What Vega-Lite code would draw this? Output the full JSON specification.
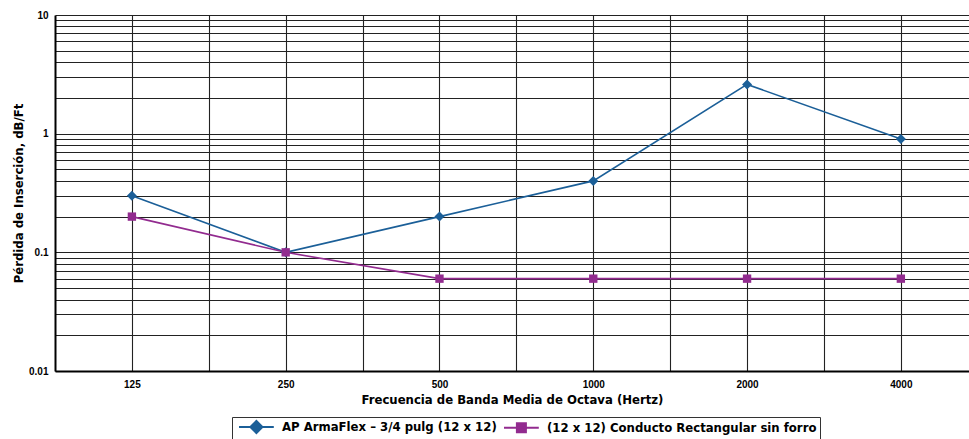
{
  "$schema": "https://vega.github.io/schema/vega-lite/v6.json",
  "width": 914,
  "height": 356,
  "autosize": {"type": "none"},
  "padding": {"left": 55, "top": 15, "right": 0, "bottom": 68},
  "background": "white",
  "config": {
    "view": {"stroke": null},
    "font": "Liberation Sans",
    "axis": {
      "domain": true,
      "domainColor": "#000000",
      "domainWidth": 2,
      "ticks": false,
      "grid": true,
      "gridColor": "#222222",
      "gridWidth": 1.1,
      "gridOpacity": 1,
      "labelFont": "Liberation Sans",
      "labelFontWeight": "bold",
      "labelFontSize": 10,
      "labelColor": "#000000",
      "labelOverlap": false,
      "titleFont": "DejaVu Sans Condensed, DejaVu Sans, sans-serif",
      "titleFontWeight": "bold",
      "titleFontSize": 13,
      "titleColor": "#000000"
    }
  },
  "data": {
    "values": [
      {"freq": 125, "value": 0.3, "series": "AP ArmaFlex – 3/4 pulg (12 x 12)"},
      {"freq": 250, "value": 0.1, "series": "AP ArmaFlex – 3/4 pulg (12 x 12)"},
      {"freq": 500, "value": 0.2, "series": "AP ArmaFlex – 3/4 pulg (12 x 12)"},
      {"freq": 1000, "value": 0.4, "series": "AP ArmaFlex – 3/4 pulg (12 x 12)"},
      {"freq": 2000, "value": 2.6, "series": "AP ArmaFlex – 3/4 pulg (12 x 12)"},
      {"freq": 4000, "value": 0.9, "series": "AP ArmaFlex – 3/4 pulg (12 x 12)"},
      {"freq": 125, "value": 0.2, "series": "(12 x 12) Conducto Rectangular sin forro"},
      {"freq": 250, "value": 0.1, "series": "(12 x 12) Conducto Rectangular sin forro"},
      {"freq": 500, "value": 0.06, "series": "(12 x 12) Conducto Rectangular sin forro"},
      {"freq": 1000, "value": 0.06, "series": "(12 x 12) Conducto Rectangular sin forro"},
      {"freq": 2000, "value": 0.06, "series": "(12 x 12) Conducto Rectangular sin forro"},
      {"freq": 4000, "value": 0.06, "series": "(12 x 12) Conducto Rectangular sin forro"}
    ]
  },
  "encoding": {
    "x": {
      "field": "freq",
      "type": "quantitative",
      "scale": {"type": "log", "base": 2, "domain": [88.39, 5438], "nice": false},
      "axis": {
        "title": "Frecuencia de Banda Media de Octava (Hertz)",
        "values": [125, 176.78, 250, 353.55, 500, 707.11, 1000, 1414.21, 2000, 2828.43, 4000],
        "format": "d",
        "labelExpr": "indexof([125,250,500,1000,2000,4000], datum.value) >= 0 ? datum.label : ''",
        "labelPadding": 8,
        "titlePadding": 4
      }
    },
    "y": {
      "field": "value",
      "type": "quantitative",
      "scale": {"type": "log", "domain": [0.01, 10], "nice": false},
      "axis": {
        "title": "Pérdida de Inserción, dB/Ft",
        "values": [0.01, 0.02, 0.03, 0.04, 0.05, 0.06, 0.07, 0.08, 0.09, 0.1, 0.2, 0.3, 0.4, 0.5, 0.6, 0.7, 0.8, 0.9, 1, 2, 3, 4, 5, 6, 7, 8, 9, 10],
        "format": "~g",
        "labelExpr": "indexof([0.01,0.1,1,10], datum.value) >= 0 ? datum.label : ''",
        "labelPadding": 7,
        "titlePadding": 3
      }
    },
    "color": {
      "field": "series",
      "type": "nominal",
      "sort": ["AP ArmaFlex – 3/4 pulg (12 x 12)", "(12 x 12) Conducto Rectangular sin forro"],
      "scale": {
        "domain": ["AP ArmaFlex – 3/4 pulg (12 x 12)", "(12 x 12) Conducto Rectangular sin forro"],
        "range": ["#1b5f98", "#922b8f"]
      },
      "legend": {
        "title": null,
        "orient": "none",
        "legendX": 177,
        "legendY": 402,
        "direction": "horizontal",
        "padding": 3,
        "strokeColor": "#333333",
        "fillColor": "white",
        "columnPadding": 3,
        "symbolSize": 144,
        "symbolStrokeWidth": 2,
        "labelFont": "DejaVu Sans Condensed, DejaVu Sans, sans-serif",
        "labelFontWeight": "bold",
        "labelFontSize": 13,
        "labelColor": "#000000",
        "labelOffset": 33,
        "labelLimit": 400,
        "encode": {
          "symbols": {
            "update": {
              "shape": {"signal": "datum.value === 'AP ArmaFlex – 3/4 pulg (12 x 12)' ? 'M-0.5,0H5.3M2.4,-1L3.4,0L2.4,1L1.4,0Z' : 'M-0.5,0H5.3M1.65,-0.75H3.15V0.75H1.65Z'"},
              "fill": {"scale": "color", "field": "value"},
              "stroke": {"scale": "color", "field": "value"},
              "strokeWidth": {"value": 2},
              "opacity": {"value": 1}
            }
          }
        }
      }
    }
  },
  "layer": [
    {
      "mark": {"type": "line", "strokeWidth": 1.6, "clip": true}
    },
    {
      "transform": [{"filter": "datum.series === 'AP ArmaFlex – 3/4 pulg (12 x 12)'"}],
      "mark": {"type": "point", "shape": "diamond", "filled": true, "size": 100, "opacity": 1}
    },
    {
      "transform": [{"filter": "datum.series === '(12 x 12) Conducto Rectangular sin forro'"}],
      "mark": {"type": "point", "shape": "square", "filled": true, "size": 70, "opacity": 1}
    }
  ]
}
